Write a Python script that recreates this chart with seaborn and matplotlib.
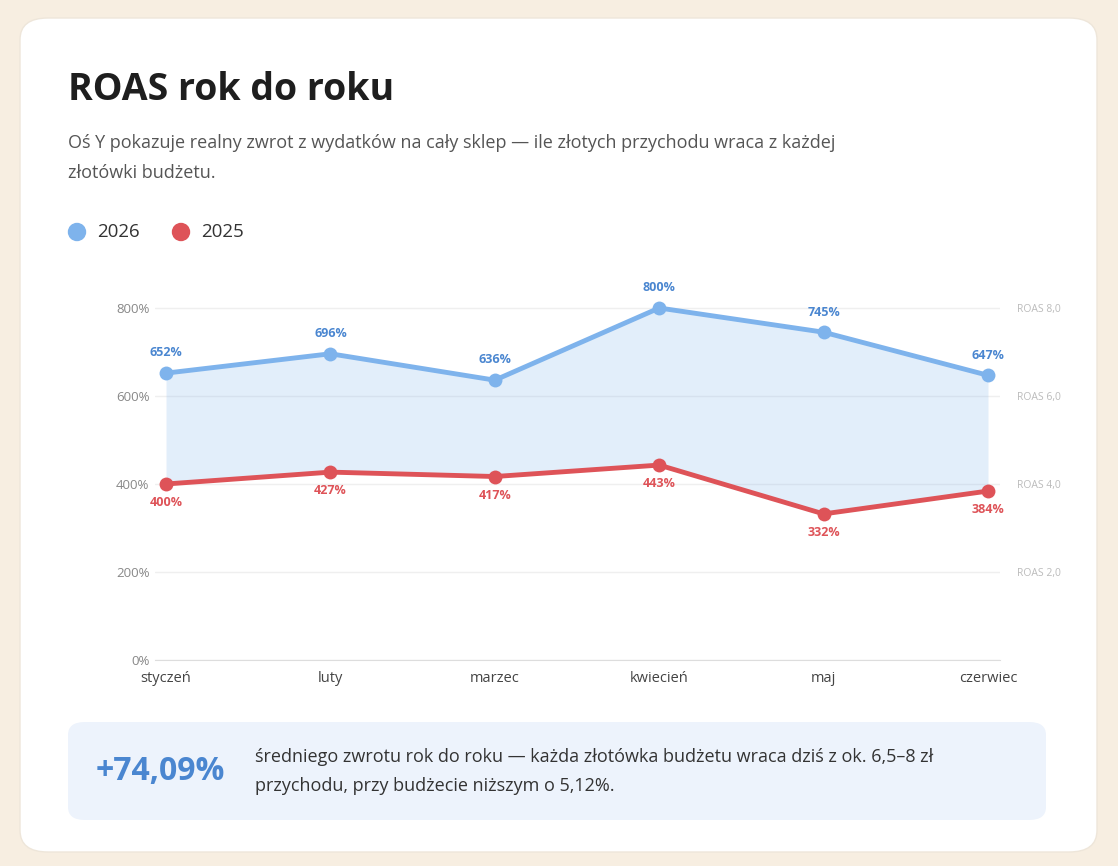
import numpy as np
import pandas as pd
import seaborn as sns
import matplotlib.pyplot as plt
from matplotlib.patches import FancyBboxPatch, Ellipse

months = ["styczeń", "luty", "marzec", "kwiecień", "maj", "czerwiec"]
roas_2026 = [652, 696, 636, 800, 745, 647]
roas_2025 = [400, 427, 417, 443, 332, 384]
c26 = "#7EB3EC"
c25 = "#DE5358"

sns.set_style("white")
plt.rcParams['font.family'] = ['Open Sans', 'DejaVu Sans']

W, H = 1118, 866
fig = plt.figure(figsize=(W / 100, H / 100), dpi=100)
fig.patch.set_facecolor("#F7EEE1")

def px(x, y):
    return x / W, 1 - y / H

# white card
card = FancyBboxPatch(px(20, 852), 1077 / W, 834 / H, boxstyle="round,pad=0,rounding_size=0.025",
                      transform=fig.transFigure, facecolor="white", edgecolor="#EEE6DA", zorder=-5)
fig.add_artist(card)

fig.text(*px(68, 90), "ROAS rok do roku", fontsize=27, fontweight="bold", color="#1E1E1E", va="center")
fig.text(*px(68, 143), "Oś Y pokazuje realny zwrot z wydatków na cały sklep — ile złotych przychodu wraca z każdej",
         fontsize=13, color="#555555", va="center")
fig.text(*px(68, 173), "złotówki budżetu.", fontsize=13, color="#555555", va="center")

# legend
for x, c, lab in [(77, c26, "2026"), (181, c25, "2025")]:
    fig.add_artist(Ellipse(px(x, 232), 17 / W, 17 / H, transform=fig.transFigure, color=c))
    fig.text(*px(x + 20, 232), lab, fontsize=13.5, color="#333333", va="center")

ax = fig.add_axes([155 / W, (H - 660) / H, 845 / W, 374 / H], zorder=2)
ax.set_facecolor("none")
df = pd.DataFrame({"m": list(range(6)) * 2, "v": roas_2026 + roas_2025,
                   "rok": ["2026"] * 6 + ["2025"] * 6})
ax.fill_between(range(6), roas_2026, roas_2025, color=c26, alpha=0.22, lw=0)
sns.lineplot(data=df, x="m", y="v", hue="rok", palette={"2026": c26, "2025": c25},
             marker="o", markersize=10, markeredgewidth=0, linewidth=3.5, legend=False, ax=ax)

for i, v in enumerate(roas_2026):
    ax.annotate(f"{v}%", (i, v), xytext=(0, 12), textcoords="offset points", ha="center",
                fontsize=9, fontweight="bold", color="#4A86D0")
for i, v in enumerate(roas_2025):
    ax.annotate(f"{v}%", (i, v), xytext=(0, -16), textcoords="offset points", ha="center",
                fontsize=9, fontweight="bold", color=c25)

ax.set_xlim(-0.067, 5.073)
ax.set_ylim(0, 850)
ax.set_yticks([0, 200, 400, 600, 800])
ax.set_yticklabels(["0%", "200%", "400%", "600%", "800%"])
ax.set_xticks(range(6))
ax.set_xticklabels(months)
ax.tick_params(axis="y", labelsize=9.5, colors="#888888", length=0, pad=4)
ax.tick_params(axis="x", labelsize=10.5, colors="#444444", length=0, pad=8)
ax.grid(axis="y", color="#EFEFEF", lw=1)
ax.set_axisbelow(True)
ax.set_xlabel("")
ax.set_ylabel("")
for s in ["top", "right", "left"]:
    ax.spines[s].set_visible(False)
ax.spines["bottom"].set_color("#DDDDDD")

ax2 = ax.twinx()
ax2.set_ylim(0, 850)
ax2.set_yticks([200, 400, 600, 800])
ax2.set_yticklabels(["ROAS 2,0", "ROAS 4,0", "ROAS 6,0", "ROAS 8,0"])
ax2.tick_params(axis="y", labelsize=7.5, colors="#BBBBBB", length=0, pad=12)
for s in ax2.spines.values():
    s.set_visible(False)

# summary box
box = FancyBboxPatch(px(68, 820), 978 / W, 98 / H, boxstyle="round,pad=0,rounding_size=0.015",
                     transform=fig.transFigure, facecolor="#EDF3FC", edgecolor="none", zorder=-4)
fig.add_artist(box)
fig.text(*px(96, 771), "+74,09%", fontsize=23, fontweight="bold", color="#4A86D0", va="center")
fig.text(*px(255, 757), "średniego zwrotu rok do roku — każda złotówka budżetu wraca dziś z ok. 6,5–8 zł",
         fontsize=13, color="#333333", va="center")
fig.text(*px(255, 786), "przychodu, przy budżecie niższym o 5,12%.", fontsize=13, color="#333333", va="center")

fig.savefig("out.png", dpi=100, facecolor=fig.get_facecolor())
